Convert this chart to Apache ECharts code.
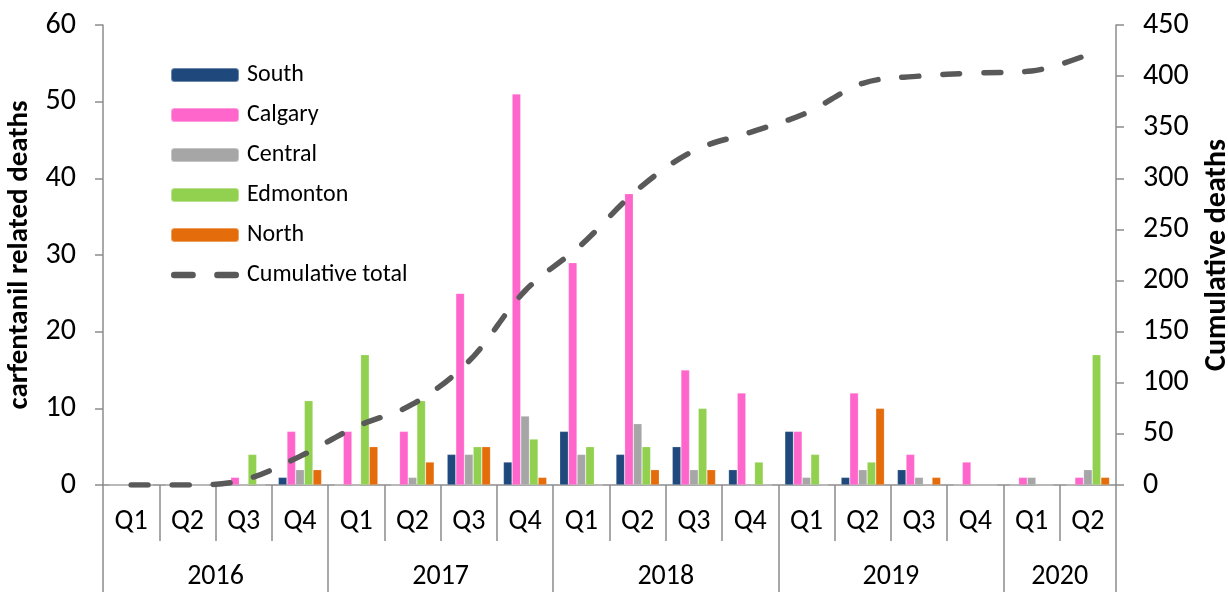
<!DOCTYPE html>
<html><head><meta charset="utf-8">
<script src="https://cdn.jsdelivr.net/npm/echarts@6/dist/echarts.min.js"></script>
<style>html,body{margin:0;padding:0;background:#fff}#c{width:1228px;height:592px}</style>
</head><body><div id="c"></div>
<script>
const quarters = ['Q1','Q2','Q3','Q4','Q1','Q2','Q3','Q4','Q1','Q2','Q3','Q4','Q1','Q2','Q3','Q4','Q1','Q2'];
const years = ['2016','2017','2018','2019','2020'];
const yearCenters = [2, 6, 10, 14, 17];
const yearBounds = [0, 4, 8, 12, 16, 18];
const south    = [0,0,0,1,0,0,4,3,7,4,5,2,7,1,2,0,0,0];
const calgary  = [0,0,1,7,7,7,25,51,29,38,15,12,7,12,4,3,1,1];
const central  = [0,0,0,2,0,1,4,9,4,8,2,0,1,2,1,0,1,2];
const edmonton = [0,0,4,11,17,11,5,6,5,5,10,3,4,3,0,0,0,17];
const north    = [0,0,0,2,5,3,5,1,0,2,2,0,0,10,1,0,0,1];
const cumulative = [0,0,5,28,57,79,121,190,235,289,327,345,364,393,400,403,405,421];
const leftTicks = {min:0, max:60, interval:10};
const rightTicks = {min:0, max:450, interval:50};

const FONT = 'Carlito, "Open Sans", "Noto Sans", sans-serif';
const TXT = '#000';
const AX = '#8c8c8c';
const DASH_ICON = 'path://M3 0 L20 0 A3 3 0 0 1 20 6 L3 6 A3 3 0 0 1 3 0 Z M43 0 L60 0 A3 3 0 0 1 60 6 L43 6 A3 3 0 0 1 43 0 Z';
const chart = echarts.init(document.getElementById('c'));
const barS = (name, data, color) => ({
  name, type:'bar', data, xAxisIndex:0, yAxisIndex:0,
  barGap:'0%', barCategoryGap:'23%',
  itemStyle:{color, borderColor:'rgba(255,255,255,0.35)', borderWidth:0.6}
});
chart.setOption({
  animation:false,
  textStyle:{fontFamily:FONT},
  grid:{left:103, right:112, top:25, bottom:107, containLabel:false, outerBoundsMode:'none'},
  legend:{
    orient:'vertical', left:165, top:58, itemWidth:68, itemHeight:14, itemGap:16,
    textStyle:{fontSize:24, lineHeight:24, color:TXT, fontFamily:FONT, padding:[0,0,0,3]},
    data:['South','Calgary','Central','Edmonton','North',{name:'Cumulative total', icon:DASH_ICON}]
  },
  xAxis:[{
    type:'category', data:quarters, position:'bottom',
    axisLine:{lineStyle:{color:AX, width:1.5}},
    axisTick:{show:true, interval:0, length:56, lineStyle:{color:AX, width:1.5}},
    axisLabel:{interval:0, fontSize:28, color:TXT, margin:23, fontFamily:FONT}
  },{
    type:'value', min:0, max:18, position:'bottom',
    axisLine:{show:false},
    splitLine:{show:false},
    axisTick:{show:true, customValues:yearBounds, length:107, lineStyle:{color:AX, width:1.5}},
    axisLabel:{customValues:yearCenters, fontSize:28, color:TXT, margin:78, fontFamily:FONT,
      formatter:(v)=>years[yearCenters.indexOf(v)]}
  }],
  yAxis:[{
    type:'value', min:leftTicks.min, max:leftTicks.max, interval:leftTicks.interval, position:'left',
    name:'carfentanil related deaths', nameLocation:'middle', nameRotate:90, nameGap:61,
    nameTextStyle:{fontSize:29, fontWeight:'bold', color:TXT, fontFamily:FONT},
    axisLine:{show:true, lineStyle:{color:AX, width:1.5}},
    axisTick:{show:true, length:8, lineStyle:{color:AX, width:1.5}},
    axisLabel:{fontSize:30, color:TXT, margin:27, fontFamily:FONT},
    splitLine:{show:false}
  },{
    type:'value', min:rightTicks.min, max:rightTicks.max, interval:rightTicks.interval, position:'right',
    name:'Cumulative deaths', nameLocation:'middle', nameRotate:90, nameGap:86,
    nameTextStyle:{fontSize:30, fontWeight:'bold', color:TXT, fontFamily:FONT},
    axisLine:{show:true, lineStyle:{color:AX, width:1.5}},
    axisTick:{show:true, length:8, lineStyle:{color:AX, width:1.5}},
    axisLabel:{fontSize:30, color:TXT, margin:27, fontFamily:FONT},
    splitLine:{show:false}
  }],
  series:[
    barS('South', south, '#1F497D'),
    barS('Calgary', calgary, '#FF66CC'),
    barS('Central', central, '#A6A6A6'),
    barS('Edmonton', edmonton, '#92D050'),
    barS('North', north, '#E46C0A'),
    {name:'Cumulative total', type:'line', data:cumulative, xAxisIndex:0, yAxisIndex:1,
     smooth:0.35, symbol:'none', z:5,
     itemStyle:{color:'#595959'},
     lineStyle:{color:'#595959', width:5.5, type:[17,24], cap:'round'}}
  ]
});
</script></body></html>
